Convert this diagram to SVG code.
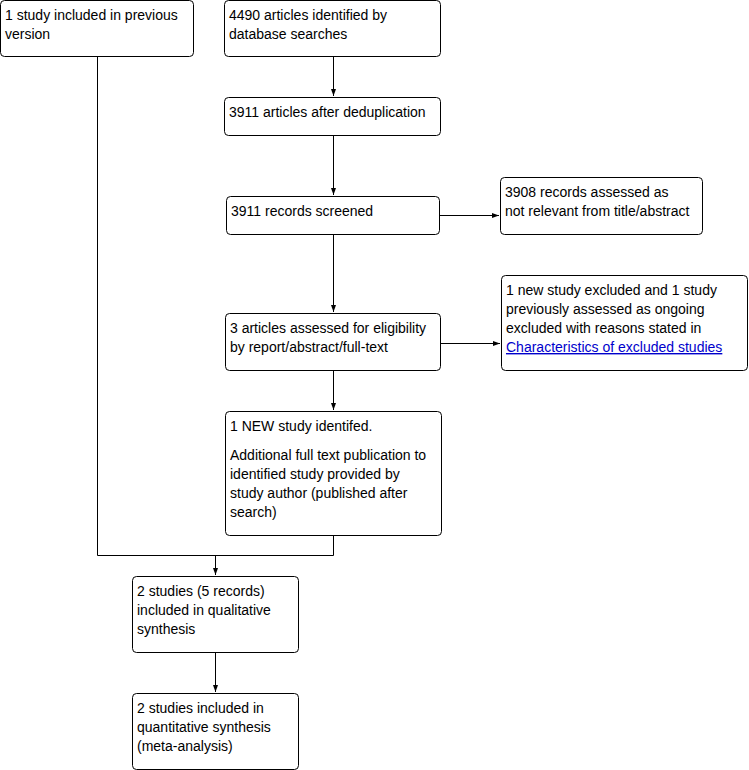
<svg xmlns="http://www.w3.org/2000/svg" width="749" height="770" viewBox="0 0 749 770">
<style>
.box{fill:#fff;stroke:#000;stroke-width:1}
text{font-family:"Liberation Sans",Arial,sans-serif;font-size:14px;fill:#000}
.link{fill:#0000cc;text-decoration:underline}
.c{fill:none;stroke:#000;stroke-width:1}
</style>
<defs>
<marker id="ah" markerWidth="8" markerHeight="6" refX="7" refY="3" orient="auto" markerUnits="userSpaceOnUse">
<path d="M0,0.5 L7,3 L0,5.5 Z" fill="#000"/>
</marker>
</defs>
<rect width="749" height="770" fill="#fff"/>
<g id="connectors">
<path class="c" d="M97.5,57 V555.5 H333.5 V535"/>
<path class="c" d="M215.5,555.5 V575" marker-end="url(#ah)"/>
<path class="c" d="M333.5,57 V96" marker-end="url(#ah)"/>
<path class="c" d="M333.5,136 V195" marker-end="url(#ah)"/>
<path class="c" d="M440,215.5 H499" marker-end="url(#ah)"/>
<path class="c" d="M333.5,234 V312" marker-end="url(#ah)"/>
<path class="c" d="M440,343.5 H500" marker-end="url(#ah)"/>
<path class="c" d="M333.5,370 V410" marker-end="url(#ah)"/>
<path class="c" d="M215.5,652 V692" marker-end="url(#ah)"/>
</g>
<g id="n1"><rect class="box" x="0.5" y="0.5" width="193" height="56" rx="4"/>
<text x="5" y="20">1 study included in previous</text><text x="5" y="39">version</text></g>
<g id="n2"><rect class="box" x="224.5" y="0.5" width="216" height="56" rx="4"/>
<text x="229" y="20">4490 articles identified by</text><text x="229" y="39">database searches</text></g>
<g id="n3"><rect class="box" x="224.5" y="97.5" width="216" height="38" rx="4"/>
<text x="229" y="117">3911 articles after deduplication</text></g>
<g id="n4"><rect class="box" x="226.5" y="196.5" width="213" height="38" rx="4"/>
<text x="231" y="216">3911 records screened</text></g>
<g id="n5"><rect class="box" x="500.5" y="177.5" width="202" height="57" rx="4"/>
<text x="505" y="197">3908 records assessed as</text><text x="505" y="216">not relevant from title/abstract</text></g>
<g id="n6"><rect class="box" x="225.5" y="313.5" width="215" height="57" rx="4"/>
<text x="230" y="333">3 articles assessed for eligibility</text><text x="230" y="352">by report/abstract/full-text</text></g>
<g id="n7"><rect class="box" x="501.5" y="275.5" width="246" height="95" rx="4"/>
<text x="506" y="295">1 new study excluded and 1 study</text><text x="506" y="314">previously assessed as ongoing</text><text x="506" y="333">excluded with reasons stated in</text><text x="506" y="352" class="link">Characteristics of excluded studies</text></g>
<g id="n8"><rect class="box" x="225.5" y="411.5" width="216" height="124" rx="4"/>
<text x="230" y="431">1 NEW study identifed.</text><text x="230" y="460">Additional full text publication to</text><text x="230" y="479">identified study provided by</text><text x="230" y="498">study author (published after</text><text x="230" y="517">search)</text></g>
<g id="n9"><rect class="box" x="132.5" y="576.5" width="166" height="76" rx="4"/>
<text x="137" y="596">2 studies (5 records)</text><text x="137" y="615">included in qualitative</text><text x="137" y="634">synthesis</text></g>
<g id="n10"><rect class="box" x="132.5" y="693.5" width="166" height="76" rx="4"/>
<text x="137" y="713">2 studies included in</text><text x="137" y="732">quantitative synthesis</text><text x="137" y="751">(meta-analysis)</text></g>
</svg>
